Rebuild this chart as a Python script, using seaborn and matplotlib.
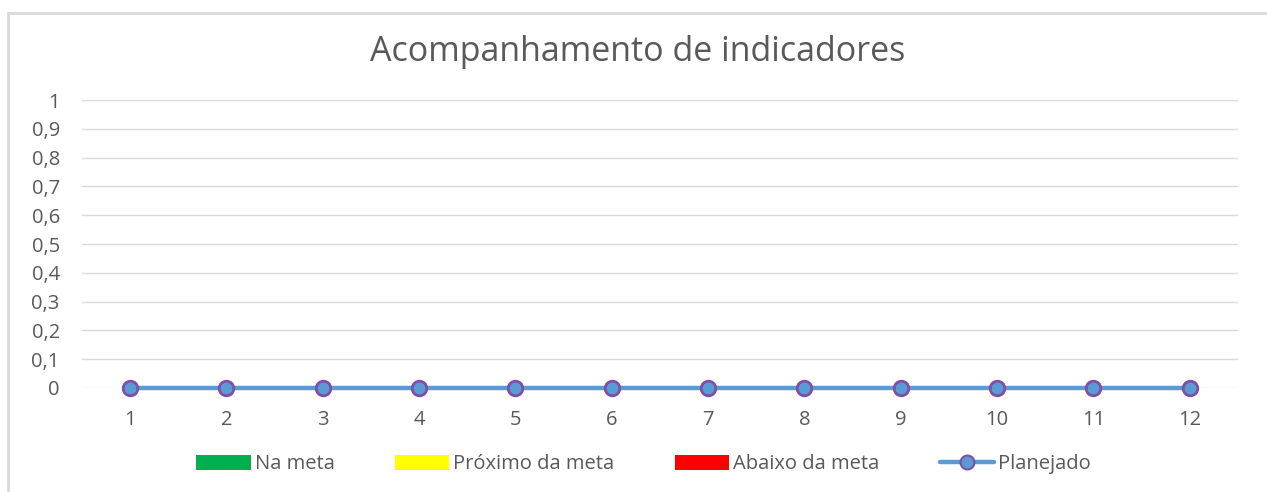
import seaborn as sns
import matplotlib.pyplot as plt
import pandas as pd
from matplotlib.patches import Patch
from matplotlib.lines import Line2D

meses = ["1", "2", "3", "4", "5", "6", "7", "8", "9", "10", "11", "12"]
na_meta = [0, 0, 0, 0, 0, 0, 0, 0, 0, 0, 0, 0]
proximo_meta = [0, 0, 0, 0, 0, 0, 0, 0, 0, 0, 0, 0]
abaixo_meta = [0, 0, 0, 0, 0, 0, 0, 0, 0, 0, 0, 0]
planejado = [0, 0, 0, 0, 0, 0, 0, 0, 0, 0, 0, 0]
y_ticks = [0, 0.1, 0.2, 0.3, 0.4, 0.5, 0.6, 0.7, 0.8, 0.9, 1]
y_labels = ["0", "0,1", "0,2", "0,3", "0,4", "0,5", "0,6", "0,7", "0,8", "0,9", "1"]

series = ["Na meta", "Próximo da meta", "Abaixo da meta"]
cores = ["#00B050", "#FFFF00", "#FF0000"]

sns.set_style("white")
plt.rcParams["font.family"] = ["Open Sans", "DejaVu Sans"]

df = pd.DataFrame({
    "mes": meses * 3,
    "valor": na_meta + proximo_meta + abaixo_meta,
    "serie": [s for s in series for _ in meses],
})
df_plan = pd.DataFrame({"mes": meses, "valor": planejado})

fig = plt.figure(figsize=(12.67, 4.92), dpi=100)
ax = fig.add_axes([0.0647, 0.2114, 0.9123, 0.5853])

sns.barplot(data=df, x="mes", y="valor", hue="serie", palette=cores,
            order=meses, ax=ax, legend=False)
sns.pointplot(data=df_plan, x="mes", y="valor", order=meses, ax=ax,
              color="#5B9BD5", markers="o", linewidth=3.2,
              markersize=10.5, markeredgecolor="#7F4FA6", markeredgewidth=2,
              markerfacecolor="#5B9BD5", errorbar=None)
for ln in ax.lines:
    ln.set_clip_on(False)
    ln.set_zorder(5)

ax.set_xlim(-0.5, 11.5)
ax.set_ylim(0, 1)
ax.set_yticks(y_ticks)
ax.set_yticklabels(y_labels)
ax.grid(axis="y", color="#D9D9D9", linewidth=1)
ax.set_axisbelow(True)
for s in ax.spines.values():
    s.set_visible(False)
ax.tick_params(axis="both", length=0, labelsize=14.5, labelcolor="#595959")
ax.tick_params(axis="y", pad=16)
ax.tick_params(axis="x", pad=16)
ax.set_xlabel("")
ax.set_ylabel("")

fig.text(0.5036, 0.894, "Acompanhamento de indicadores", ha="center", va="center",
         fontsize=24.5, color="#595959")

handles = [Patch(facecolor=c, edgecolor="none") for c in cores]
handles.append(Line2D([0], [0], color="#5B9BD5", linewidth=3.2, marker="o",
                      markersize=10, markerfacecolor="#5B9BD5",
                      markeredgecolor="#7F4FA6", markeredgewidth=1.5))
leg = fig.legend(handles, series + ["Planejado"], loc="center",
                 bbox_to_anchor=(0.508, 0.056), ncol=4, frameon=False,
                 handlelength=2.7, handleheight=0.75,
                 columnspacing=3.0, handletextpad=0.2,
                 prop={"family": ["Open Sans", "DejaVu Sans"], "size": 14.5})
for t in leg.get_texts():
    t.set_color("#595959")

# moldura cinza (parte superior e esquerda)
fig.add_artist(Line2D([0.0063, 1.0], [0.9736, 0.9736], transform=fig.transFigure,
                      color="#D9D9D9", linewidth=2))
fig.add_artist(Line2D([0.0063, 0.0063], [0.0, 0.9736], transform=fig.transFigure,
                      color="#D9D9D9", linewidth=2))

plt.savefig("out.png", dpi=100)
